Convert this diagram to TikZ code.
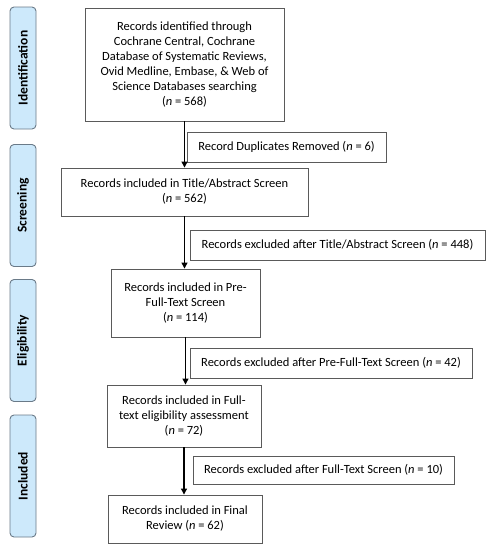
\documentclass[tikz,border=0pt]{standalone}
\usepackage{fontspec}
\setmainfont{Carlito}
\usetikzlibrary{arrows.meta}
\definecolor{boxline}{HTML}{5A5A5A}
\definecolor{labfill}{HTML}{CDE9FB}
\definecolor{labline}{HTML}{6A7A88}
\begin{document}
\begin{tikzpicture}[x=1pt,y=-1pt,
  mainbox/.style={draw=boxline,line width=0.9pt,fill=white,align=center,inner sep=2pt,
    font=\fontsize{12.5}{15}\selectfont},
  exbox/.style={draw=boxline,line width=0.9pt,fill=white,align=center,inner sep=2pt,
    font=\fontsize{12.5}{15}\selectfont},
  phase/.style={draw=labline,line width=0.9pt,fill=labfill,rounded corners=4pt,
    minimum width=26pt,minimum height=122pt,inner sep=0pt},
  phasetext/.style={rotate=90,font=\fontsize{13.5}{15}\selectfont\bfseries},
  flow/.style={draw=black,line width=1.1pt,-{Triangle[length=6pt,width=6pt]}}
]
\useasboundingbox (0,0) rectangle (491,550);
% phase labels
\node[phase] (pid) at (23,68) {};
\node[phasetext] (tid) at (pid.center) {Identification};
\node[phase] (psc) at (23,205.5) {};
\node[phasetext] (tsc) at (psc.center) {Screening};
\node[phase] (pel) at (23,340.5) {};
\node[phasetext] (tel) at (pel.center) {Eligibility};
\node[phase] (pin) at (23,476) {};
\node[phasetext] (tin) at (pin.center) {Included};
% main boxes
\node[mainbox,minimum width=199pt,minimum height=113pt] (b1) at (184.5,64.5)
 {Records identified through\\Cochrane Central, Cochrane\\Database of Systematic Reviews,\\Ovid Medline, Embase, \& Web of\\Science Databases searching\\(\textit{n} = 568)};
\node[mainbox,minimum width=247pt,minimum height=48pt] (b2) at (184.5,192)
 {Records included in Title/Abstract Screen\\(\textit{n} = 562)};
\node[mainbox,minimum width=149pt,minimum height=68pt] (b3) at (185.5,303)
 {Records included in Pre-\\Full-Text Screen\\(\textit{n} = 114)};
\node[mainbox,minimum width=154pt,minimum height=62pt] (b4) at (184,416)
 {Records included in Full-\\text eligibility assessment\\(\textit{n} = 72)};
\node[mainbox,minimum width=154pt,minimum height=48pt] (b5) at (185,519)
 {Records included in Final\\Review (\textit{n} = 62)};
% exclusion boxes
\node[exbox,minimum width=199pt,minimum height=30pt] (e1) at (286.5,147)
 {Record Duplicates Removed (\textit{n} = 6)};
\node[exbox,minimum width=295pt,minimum height=30pt] (e2) at (337.5,245)
 {Records excluded after Title/Abstract Screen (\textit{n} = 448)};
\node[exbox,minimum width=282pt,minimum height=30pt] (e3) at (331,363)
 {Records excluded after Pre-Full-Text Screen (\textit{n} = 42)};
\node[exbox,minimum width=261pt,minimum height=28pt] (e4) at (323.5,470)
 {Records excluded after Full-Text Screen (\textit{n} = 10)};
% arrows
\draw[flow] (b1.south) -- (b1.south |- b2.north);
\draw[flow] (b2.south) -- (b2.south |- b3.north);
\draw[flow] (b3.south) -- (b3.south |- b4.north);
\draw[flow] (b4.south) -- (b4.south |- b5.north);
\end{tikzpicture}
\end{document}
